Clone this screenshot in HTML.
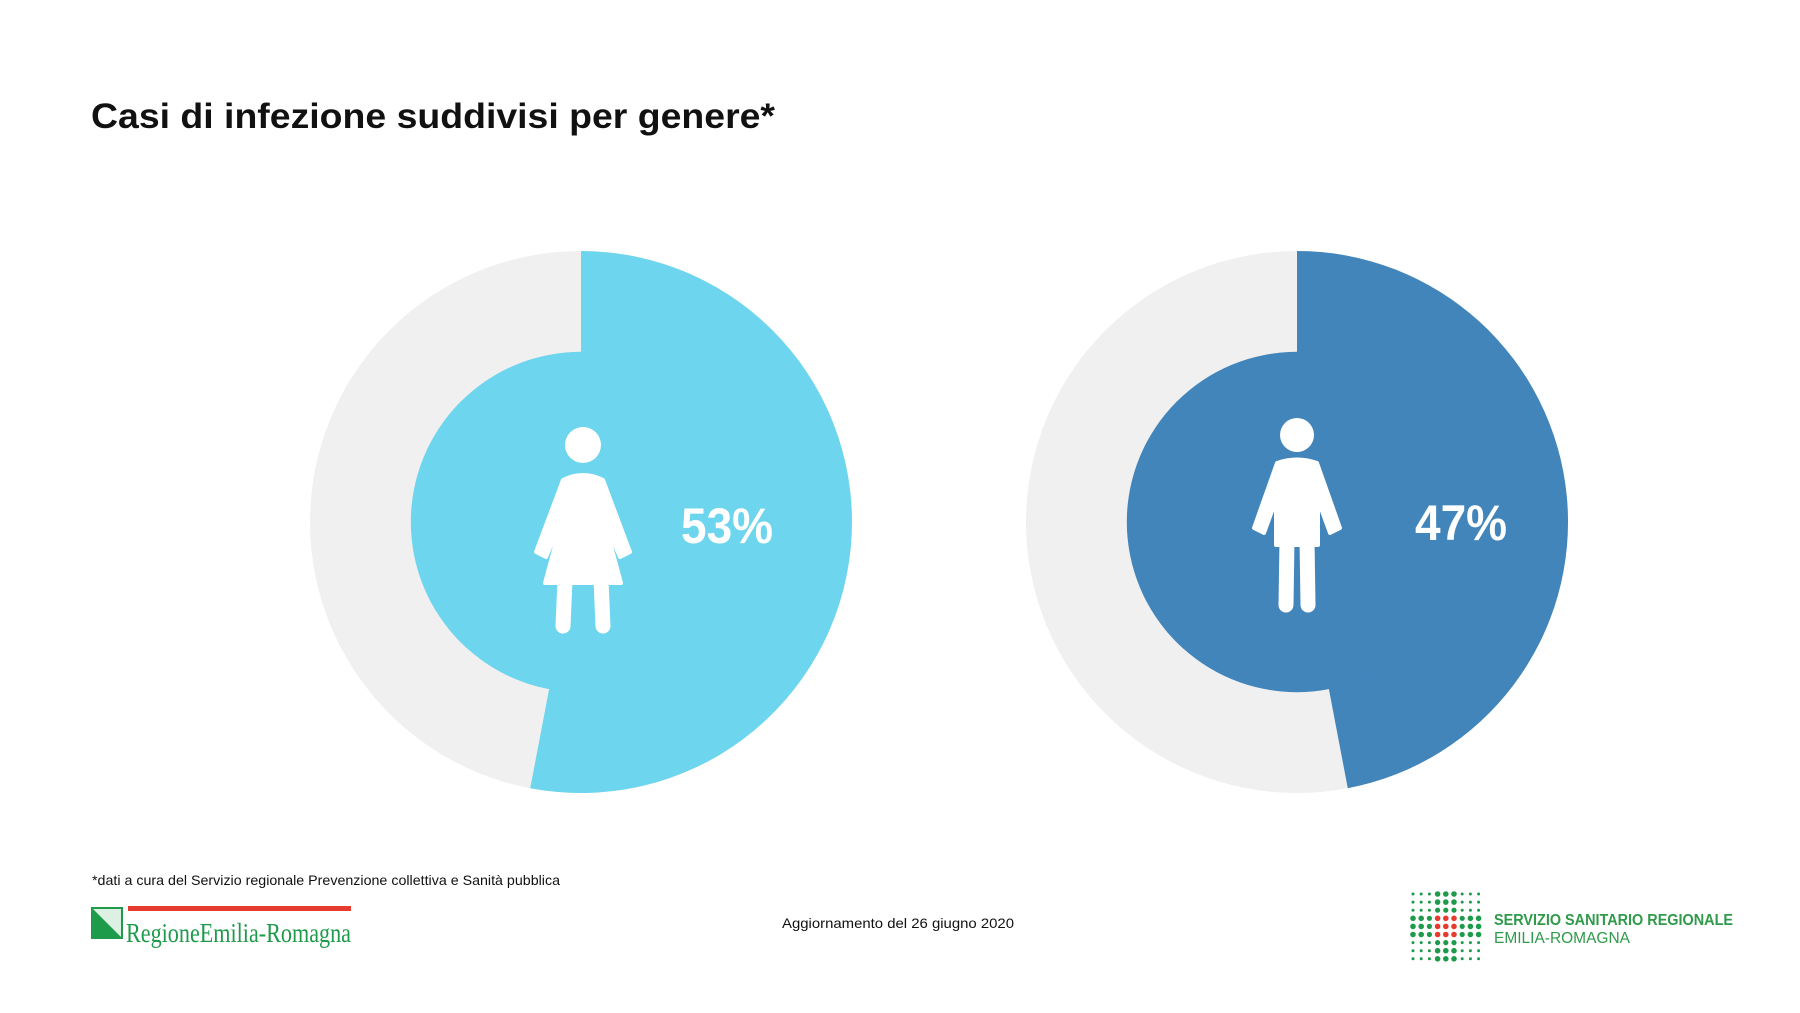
<!DOCTYPE html>
<html><head><meta charset="utf-8"><style>
html,body{margin:0;padding:0;background:#fff;}
svg{display:block;}
</style></head><body>
<svg id="s" width="1800" height="1013" viewBox="0 0 1800 1013" xmlns="http://www.w3.org/2000/svg" font-family="Liberation Sans, sans-serif">
<rect width="1800" height="1013" fill="#fff"/>
<text x="91" y="128" font-size="35" font-weight="bold" fill="#111" textLength="684" lengthAdjust="spacingAndGlyphs">Casi di infezione suddivisi per genere*</text>

<g transform="translate(581,522) scale(271,271)">
<circle r="1" fill="#f0f0f0"/>
<path d="M0,0 L0,-1 A1,1 0 1,1 -0.1874,0.9823 Z" fill="#6dd5ed"/>
<circle r="0.628" fill="#6dd5ed"/>
</g>
<g transform="translate(1297,522) scale(271,271)">
<circle r="1" fill="#f0f0f0"/>
<path d="M0,0 L0,-1 A1,1 0 0,1 0.1874,0.9823 Z" fill="#4285bb"/>
<circle r="0.628" fill="#4285bb"/>
</g>

<!-- female -->
<g fill="#fff" stroke="#fff" stroke-linecap="round" stroke-linejoin="round">
<circle cx="583" cy="445" r="18" stroke="none"/>
<path d="M563,480 Q583,470 603,480 L630,552 L620,557 L604,520 L621,583 L545,583 L562,520 L546,557 L536,552 Z" stroke-width="4"/>
<path d="M565,580 L563,626 M601,580 L603,626" stroke-width="15" fill="none"/>
</g>
<!-- male -->
<g fill="#fff" stroke="#fff" stroke-linecap="round" stroke-linejoin="round">
<circle cx="1297" cy="435" r="17" stroke="none"/>
<path d="M1277,463 Q1297,456 1317,463 L1340,528 L1330,533 L1318,500 L1318,545 L1276,545 L1276,500 L1264,533 L1254,528 Z" stroke-width="4"/>
<path d="M1287,540 L1286,605 M1307,540 L1308,605" stroke-width="15" fill="none"/>
</g>

<text x="681" y="543" font-size="50" font-weight="bold" fill="#fff" textLength="92" lengthAdjust="spacingAndGlyphs">53%</text>
<text x="1415" y="540" font-size="50" font-weight="bold" fill="#fff" textLength="92" lengthAdjust="spacingAndGlyphs">47%</text>

<text x="92" y="885" font-size="14" fill="#111" textLength="468" lengthAdjust="spacingAndGlyphs">*dati a cura del Servizio regionale Prevenzione collettiva e Sanità pubblica</text>
<text x="782" y="928" font-size="14" fill="#111" textLength="232" lengthAdjust="spacingAndGlyphs">Aggiornamento del 26 giugno 2020</text>

<!-- left logo -->
<rect x="128" y="906" width="223" height="5" fill="#e63b2e"/>
<rect x="91" y="907" width="32" height="32" fill="#1e9a4b"/>
<path d="M93,909 L121,909 L121,937 Z" fill="#fff" opacity="0.85"/>
<path d="M93,911 L93,937 L119,937 Z" fill="#1e9a4b"/>
<text x="126" y="942" font-family="Liberation Serif, serif" font-size="27" fill="#1e9a4b" textLength="225" lengthAdjust="spacingAndGlyphs">RegioneEmilia-Romagna</text>

<!-- right logo -->
<g id="dots"></g>
<text x="1494" y="925" font-size="16" font-weight="bold" fill="#2e9a4a" textLength="239" lengthAdjust="spacingAndGlyphs">SERVIZIO SANITARIO REGIONALE</text>
<text x="1494" y="943" font-size="16" fill="#2e9a4a" textLength="136" lengthAdjust="spacingAndGlyphs">EMILIA-ROMAGNA</text>
</svg>
<script>
var g=document.getElementById('dots'),h='';
for(var r=0;r<9;r++)for(var c=0;c<9;c++){
var cr=(c>=3&&c<=5),rr=(r>=3&&r<=5);
var rad=(cr||rr)?2.8:1.5;
if((cr&&(r==2||r==6))||(rr&&(c==2||c==6)))rad=2.6;
var col=(cr&&rr)?'#e63b2e':'#1e9a4b';
h+='<circle cx="'+(1413+c*8.2)+'" cy="'+(894+r*8.1)+'" r="'+rad+'" fill="'+col+'"/>';}
g.innerHTML=h;
</script>
</body></html>
